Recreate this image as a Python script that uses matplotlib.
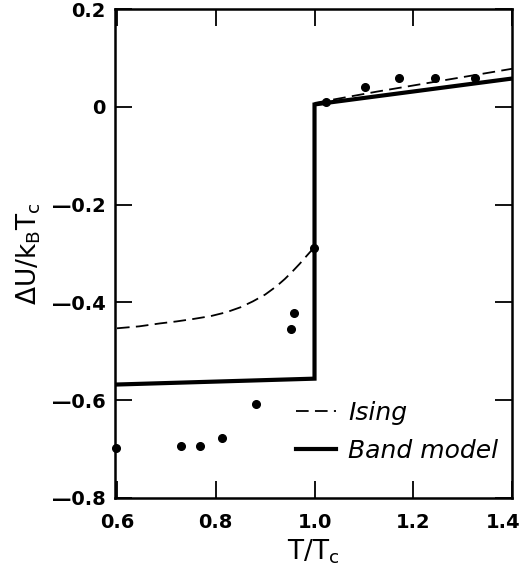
import matplotlib.pyplot as plt
from matplotlib.transforms import ScaledTranslation

# measured points
t_data = [1.024, 1.103, 1.172, 1.244, 1.325, 0.998, 0.959, 0.952, 0.881, 0.812, 0.768, 0.729, 0.598]
u_data = [0.010, 0.041, 0.059, 0.059, 0.059, -0.289, -0.422, -0.455, -0.607, -0.677, -0.693, -0.693, -0.697]

# Ising curve (below and above Tc)
t_ising_lo = [0.600, 0.645, 0.687, 0.720, 0.754, 0.790, 0.822, 0.850, 0.875, 0.900, 0.923, 0.940,
              0.956, 0.970, 0.983, 0.998]
u_ising_lo = [-0.453, -0.449, -0.443, -0.439, -0.434, -0.428, -0.420, -0.410, -0.398, -0.384, -0.367, -0.352,
              -0.336, -0.321, -0.306, -0.289]
t_ising_hi = [1.0, 1.125, 1.4]
u_ising_hi = [0.008, 0.031, 0.078]

# band model
t_band = [0.60, 1.0, 1.0, 1.4]
u_band = [-0.568, -0.556, 0.005, 0.058]

xticks = [0.6, 0.8, 1.0, 1.2, 1.4]
xlabels = ['0.6', '0.8', '1.0', '1.2', '1.4']
yticks = [-0.8, -0.6, -0.4, -0.2, 0, 0.2]
ylabels = ['\u20140.8', '\u20140.6', '\u20140.4', '\u20140.2', '0', '0.2']

fig = plt.figure(figsize=(5.19, 5.71), dpi=100)
ax = fig.add_axes([0.2216, 0.128, 0.765, 0.856])

ax.plot(t_ising_lo, u_ising_lo, 'k', lw=1.3, dashes=(7, 3.5), label='Ising')
ax.plot(t_ising_hi, u_ising_hi, 'k', lw=1.3, dashes=(7, 3.5))
ax.plot(t_band, u_band, 'k', lw=3, solid_joinstyle='miter', label='Band model')
ax.plot(t_data, u_data, 'o', color='k', ms=5.5, clip_on=False)

ax.set_xlim(0.596, 1.4)
ax.set_ylim(-0.8, 0.2)
ax.set_xticks(xticks)
ax.set_xticklabels(xlabels)
ax.set_yticks(yticks)
ax.set_yticklabels(ylabels)
for s in ax.spines.values():
    s.set_linewidth(1.8)
ax.tick_params(direction='in', length=12, width=1.3, labelsize=14,
               top=True, right=True, pad=7)
ax.tick_params(axis='x', pad=11)
for lab in ax.get_xticklabels() + ax.get_yticklabels():
    lab.set_fontweight('bold')
last = ax.get_xticklabels()[-1]
last.set_horizontalalignment('right')
last.set_transform(last.get_transform() + ScaledTranslation(6 / 72, 0, fig.dpi_scale_trans))

ax.set_xlabel('T/T$_\\mathregular{c}$', fontsize=19, labelpad=4)
ax.set_ylabel('\u0394U/k$_\\mathregular{B}$T$_\\mathregular{c}$', fontsize=19, labelpad=6)

leg = ax.legend(loc='center left', bbox_to_anchor=(0.455, 0.135), frameon=False,
                borderpad=0, borderaxespad=0,
                handlelength=1.6, handletextpad=0.5, labelspacing=0.55,
                prop={'style': 'italic', 'size': 18})

fig.savefig('out.png', dpi=100)
